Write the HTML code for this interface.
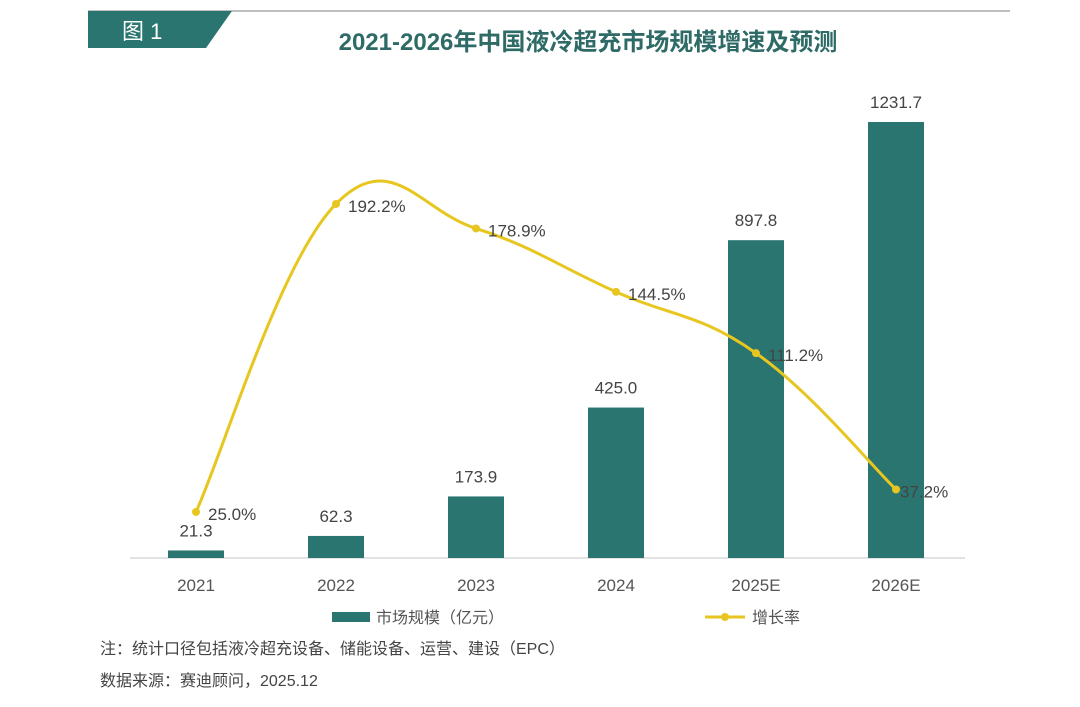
<!DOCTYPE html>
<html><head><meta charset="utf-8"><style>
body{margin:0;background:#fff;width:1080px;height:702px;overflow:hidden;font-family:"Liberation Sans","Noto Sans CJK SC",sans-serif}
</style></head><body>
<svg width="1080" height="702" style="font-family:'Liberation Sans','Noto Sans CJK SC',sans-serif">
<line x1="88" y1="11" x2="1010" y2="11" stroke="#aaa" stroke-width="1.5"/>
<polygon points="88,11 232,11 206,48 88,48" fill="#2a7570"/>
<text x="122" y="39" font-size="22" fill="#fff">图 1</text>
<text x="588" y="50" font-size="24" font-weight="bold" fill="#2e6b66" text-anchor="middle">2021-2026年中国液冷超充市场规模增速及预测</text>
<line x1="130" y1="558" x2="965" y2="558" stroke="#d8d8d8" stroke-width="1.5"/>
<g id="bars"></g><g id="line"></g><g id="labels"></g>
<rect x="332" y="612" width="38" height="10" fill="#2a7570"/>
<text x="376" y="623" font-size="16" fill="#555">市场规模（亿元）</text>
<line x1="705" y1="617" x2="745" y2="617" stroke="#e8c620" stroke-width="3"/>
<circle cx="725" cy="617" r="4" fill="#e8c620"/>
<text x="752" y="623" font-size="16" fill="#555">增长率</text>
<text x="100" y="654" font-size="16" fill="#444">注：统计口径包括液冷超充设备、储能设备、运营、建设（EPC）</text>
<text x="100" y="686" font-size="16" fill="#444">数据来源：赛迪顾问，2025.12</text>
</svg>
<script>
const categories=["2021","2022","2023","2024","2025E","2026E"];
const marketSize=[21.3,62.3,173.9,425.0,897.8,1231.7];
const growthRate=[25.0,192.2,178.9,144.5,111.2,37.2];
const sizeLabels=["21.3","62.3","173.9","425.0","897.8","1231.7"];
const rateLabels=["25.0%","192.2%","178.9%","144.5%","111.2%","37.2%"];
const NS="http://www.w3.org/2000/svg";
const base=558;
const xs=i=>196+i*140;
const yBar=v=>base-v*0.354;
const yRate=v=>base-v*1.842;
function mk(t,a,p){const e=document.createElementNS(NS,t);for(const k in a)e.setAttribute(k,a[k]);p.appendChild(e);return e;}
const gb=document.getElementById('bars'),gl=document.getElementById('line'),gt=document.getElementById('labels');
categories.forEach((c,i)=>{
 const y=yBar(marketSize[i]);
 const r=mk('rect',{x:xs(i)-28,y:y,width:56,height:base-y,fill:'#2a7570'},gb);
 
 
 const t=mk('text',{x:xs(i),y:y-14,'font-size':17,fill:'#444','text-anchor':'middle'},gt);t.textContent=sizeLabels[i];
 
 
 const xl=mk('text',{x:xs(i),y:591,'font-size':17,fill:'#555','text-anchor':'middle'},gt);xl.textContent=c;
 
 
});
const pts=growthRate.map((v,i)=>[xs(i),yRate(v)]);
let d='M'+pts[0][0]+','+pts[0][1];
for(let i=0;i<pts.length-1;i++){
 const p0=pts[Math.max(0,i-1)],p1=pts[i],p2=pts[i+1],p3=pts[Math.min(pts.length-1,i+2)];
 const t=0.2;
 d+=' C'+(p1[0]+(p2[0]-p0[0])*t)+','+(p1[1]+(p2[1]-p0[1])*t)+' '+(p2[0]-(p3[0]-p1[0])*t)+','+(p2[1]-(p3[1]-p1[1])*t)+' '+p2[0]+','+p2[1];
}
const path=mk('path',{d:d,fill:'none',stroke:'#e8c620','stroke-width':3},gl);


pts.forEach((p,i)=>{
 const c=mk('circle',{cx:p[0],cy:p[1],r:4,fill:'#e8c620'},gl);
 
 
 const t=mk('text',{x:p[0]+(i==5?4:12),y:p[1]+8,'font-size':17,fill:'#444'},gt);t.textContent=rateLabels[i];
 
 
});
</script>
</body></html>
